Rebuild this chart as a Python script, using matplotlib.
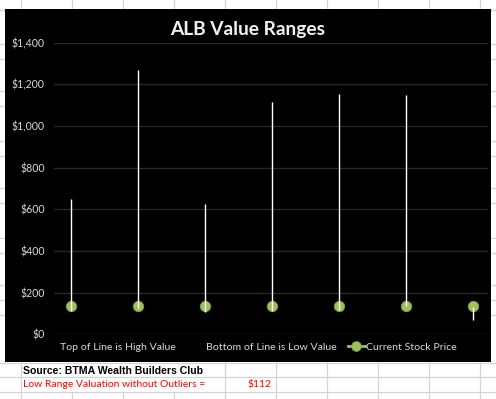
import matplotlib
matplotlib.use("Agg")
import matplotlib.pyplot as plt
from matplotlib.lines import Line2D
from matplotlib.patches import Rectangle
from matplotlib.ticker import FuncFormatter

# ---- data ----
positions = [0, 1, 2, 3, 4, 5, 6]
high_values = [648, 1270, 624, 1116, 1151, 1146, 133]
low_values = [112, 127, 106, 112, 117, 138, 69]
current_price = [135, 135, 135, 135, 135, 135, 135]
y_ticks = [0, 200, 400, 600, 800, 1000, 1200, 1400]
title = "ALB Value Ranges"
legend_labels = ["Top of Line is High Value", "Bottom of Line is Low Value", "Current Stock Price"]
source_text = "Source: BTMA Wealth Builders Club"
low_range_label = "Low Range Valuation without Outliers ="
low_range_value = "$112"

W, H = 496, 399
fig = plt.figure(figsize=(W / 100, H / 100), dpi=100)
fig.patch.set_facecolor("white")

def fx(px):
    return px / W

def fy(py):
    return 1 - py / H

# ---- spreadsheet grid (background) ----
grid_c = "#d4d4d4"
col_x = [20.7 + 51 * k for k in range(10)]
row_y = [10, 44, 59, 91, 106, 141, 156, 188, 203, 238, 253, 285, 300, 315, 363, 377, 392]
for yy in row_y:
    fig.add_artist(Line2D([0, 1], [fy(yy), fy(yy)], color=grid_c, lw=0.9, zorder=0))
for xx in col_x:
    fig.add_artist(Line2D([fx(xx), fx(xx)], [fy(0), fy(9)], color=grid_c, lw=0.9, zorder=0))
    if 30 < xx < 200:
        fig.add_artist(Line2D([fx(xx), fx(xx)], [fy(392), fy(399)], color=grid_c, lw=0.9, zorder=0))
    else:
        fig.add_artist(Line2D([fx(xx), fx(xx)], [fy(362), fy(399)], color=grid_c, lw=0.9, zorder=0))

# ---- chart area ----
fig.add_artist(Rectangle((fx(5), fy(362)), fx(491) - fx(5), fy(9) - fy(362),
                         facecolor="#000000", edgecolor="none", zorder=1,
                         transform=fig.transFigure))

ax_l, ax_r, ax_t, ax_b = 54, 488, 42.5, 334.4
ax = fig.add_axes([fx(ax_l), fy(ax_b), (ax_r - ax_l) / W, (ax_b - ax_t) / H])
ax.set_zorder(2)
ax.patch.set_alpha(0)
ax.set_ylim(0, 1400)
ax.set_xlim(-0.254, 6.224)
ax.set_yticks(y_ticks)
ax.yaxis.set_major_formatter(FuncFormatter(lambda v, p: f"${v:,.0f}"))
ax.set_xticks([])
for s in ax.spines.values():
    s.set_visible(False)
ax.tick_params(axis="y", length=0, pad=6.8, labelsize=7.6, labelcolor="#d9d9d9")
for lab in ax.get_yticklabels():
    lab.set_fontfamily("Lato")
ax.grid(axis="y", color="#282828", lw=1.0)
ax.set_axisbelow(True)

green = "#9fc15a"
# invisible series for legend entries (high / low)
h1, = ax.plot(positions, high_values, linestyle="none", label=legend_labels[0])
h2, = ax.plot(positions, low_values, linestyle="none", label=legend_labels[1])
h3, = ax.plot(positions, current_price, linestyle="none", marker="o", markersize=7.5,
              markerfacecolor=green, markeredgecolor="#7f9e45", markeredgewidth=0.6,
              color=green, label=legend_labels[2], zorder=3)
ax.vlines(positions, low_values, high_values, colors="white", lw=1.0, zorder=4)

legend_handle3 = Line2D([], [], color=green, lw=2, marker="o", markersize=7,
                        markerfacecolor=green, markeredgecolor="#7f9e45", markeredgewidth=0.6)
fs = 7.55
fpx = fs * 100 / 72
leg = ax.legend([h1, h2, legend_handle3], legend_labels, ncol=3, frameon=False,
                loc="center left", bbox_to_anchor=(fx(42), fy(347)),
                bbox_transform=fig.transFigure, borderpad=0, borderaxespad=0,
                handlelength=17 / fpx, handletextpad=1.5 / fpx, columnspacing=11 / fpx,
                prop={"family": "Lato", "size": fs})
for t in leg.get_texts():
    t.set_color("#d9d9d9")

fig.text(fx(248), fy(30), title, color="#f2f2f2", fontsize=13.8, fontweight="bold",
         family="Lato", ha="center", va="center", zorder=5)

# ---- cells below the chart ----
fig.text(fx(23), fy(370.5), source_text, color="black", fontsize=7.6, fontweight="bold",
         family="Liberation Sans", ha="left", va="center")
fig.text(fx(23), fy(384.5), low_range_label, color="#ff0000", fontsize=7.5,
         family="Lato", ha="left", va="center")
fig.text(fx(272), fy(384.5), low_range_value, color="#ff0000", fontsize=7.5,
         family="Lato", ha="right", va="center")

fig.savefig("out.png", dpi=100, facecolor="white")
